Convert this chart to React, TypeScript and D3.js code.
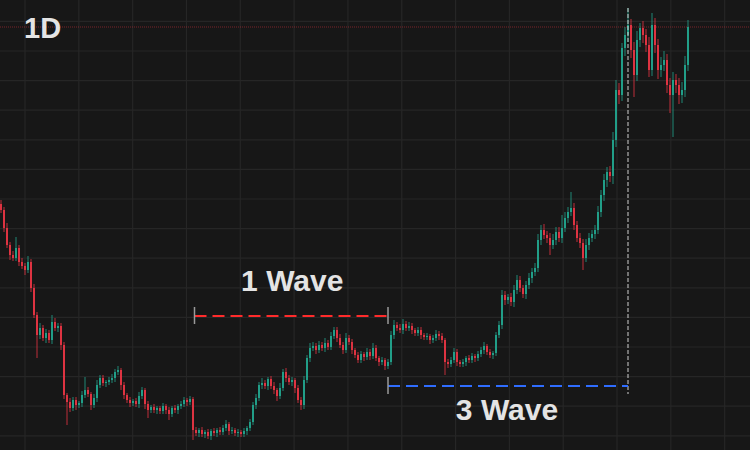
import React from "react";
import * as d3 from "d3";

// ---- data (price units) ----
const timeframeLabel = "1D";
const firstOpen = 246;
const closes = [
  // segment A
  240, 222, 205, 195, 192, 202, 188, 184, 180, 188, 162, 135, 115, 122, 112, 117, 110, 128, 122, 124, 105,
  // segment B
  55, 48, 42, 50, 45, 47, 55, 60, 56, 45, 52, 65, 72, 67, 68, 70, 72, 78, 80, 65,
  55, 50, 47, 49, 46, 54, 60, 46, 40, 43, 40, 42, 39, 44, 40, 36, 42, 40, 44, 46, 50, 48, 51,
  // segment C
  20, 17, 20, 16, 18, 14, 19, 17, 20, 18, 22, 26, 19, 20, 17, 18, 16, 19, 22, 28,
  45, 52, 65, 67, 64, 71, 64, 60, 54, 62, 78, 72, 68, 70, 62, 50,
  // segment D
  45, 70, 92, 102, 104, 100, 105, 102, 107, 103, 114, 120, 112, 105, 100, 112, 108, 100, 95, 90,
  96, 93, 98, 94, 102, 92, 88, 90, 84, 88,
  // segment E
  115, 125, 122, 120, 126, 122, 124, 120, 117, 120, 115, 113, 114, 110, 112, 116, 114, 110, 88, 86,
  90, 98, 88, 86, 88, 92, 90, 94, 92, 96, 100, 104, 98, 95, 97, 115, 125,
  // segment F
  155, 150, 153, 148, 160, 170, 162, 156, 165, 172, 178, 182, 210, 220, 215, 212, 205, 210, 218, 212,
  222, 232, 238, 242, 225, 212, 207, 192, 205, 212, 216, 220, 238, 255, 270, 278, 274,
  // segment G
  310, 360, 355, 402, 415, 425, 400, 375, 410, 422, 415, 405, 380, 425, 405, 380, 385, 390, 365, 355,
  370, 365, 355, 360, 385, 423,
];
const upperWick = [
  4, 3, 5, 3, 4, 11, 3, 4, 3, 6, 3, 4, 3, 5, 3, 4, 3, 7, 4, 3, 3,
  3, 2, 4, 3, 3, 2, 4, 13, 3, 2, 4, 5, 3, 3, 2, 3, 4, 3, 4, 2,
  3, 2, 3, 2, 3, 4, 3, 2, 3, 2, 3, 2, 2, 3, 2, 3, 2, 3, 2, 3, 3, 2, 3,
  2, 3, 2, 3, 2, 3, 2, 3, 2, 3, 3, 4, 2, 3, 2, 3, 2, 3, 2, 3,
  3, 4, 3, 5, 3, 2, 3, 4, 2, 5, 3, 4, 3, 3, 2, 3,
  3, 4, 3, 5, 4, 3, 4, 3, 5, 3, 4, 3, 3, 4, 3, 5, 3, 3, 2, 3,
  3, 2, 4, 3, 5, 3, 2, 3, 2, 3,
  4, 5, 3, 4, 5, 3, 4, 3, 2, 3, 3, 2, 3, 2, 3, 4, 3, 3, 2, 3,
  3, 4, 3, 2, 3, 2, 3, 3, 2, 3, 3, 4, 2, 3, 2, 3, 4,
  5, 4, 3, 4, 5, 5, 4, 3, 4, 5, 4, 5, 6, 5, 6, 4, 5, 6, 5, 5,
  13, 6, 5, 16, 5, 4, 5, 4, 6, 5, 4, 5, 6, 5, 6, 5, 6,
  8, 10, 7, 5, 8, 17, 6, 8, 9, 5, 7, 6, 8, 12, 7, 6, 8, 9, 6, 7,
  8, 6, 7, 8, 9, 7,
];
const lowerWick = [
  3, 4, 3, 5, 3, 3, 4, 3, 5, 3, 4, 3, 23, 4, 3, 5, 3, 4, 3, 4, 5,
  4, 23, 4, 3, 5, 3, 4, 3, 3, 5, 3, 4, 3, 3, 4, 3, 3, 4, 3, 5,
  4, 3, 4, 3, 3, 4, 3, 5, 8, 3, 3, 4, 3, 3, 4, 6, 3, 3, 4, 3, 3, 4, 3,
  10, 3, 4, 3, 4, 3, 4, 3, 4, 3, 3, 3, 4, 3, 3, 4, 3, 3, 4, 3,
  3, 4, 3, 4, 3, 4, 3, 4, 5, 3, 3, 4, 3, 4, 5, 3,
  5, 4, 3, 4, 3, 4, 3, 3, 4, 3, 3, 3, 4, 3, 4, 3, 3, 4, 3, 3,
  3, 4, 3, 4, 3, 3, 4, 3, 4, 3,
  3, 4, 3, 3, 4, 3, 3, 4, 3, 3, 4, 3, 3, 4, 3, 3, 4, 3, 13, 4,
  3, 3, 4, 3, 3, 4, 3, 3, 4, 3, 3, 4, 3, 3, 4, 3, 3,
  4, 5, 4, 4, 5, 4, 4, 4, 5, 4, 5, 4, 4, 5, 4, 5, 10, 4, 5, 4,
  5, 4, 5, 4, 5, 4, 5, 12, 4, 5, 4, 5, 4, 5, 6, 7, 6,
  8, 7, 9, 6, 8, 7, 8, 22, 6, 7, 8, 7, 7, 6, 8, 9, 7, 6, 8, 18,
  42, 8, 9, 8, 7, 6,
];
const peakIndex = 209;
const waveLabels = ["1 Wave", "3 Wave"];
const waveFrom = [64.5, 129];
const waveTo = [129, 209];
const waveLinePrice = [134, 64];
const waveTextPrice = [159, 30];
const waveColors = ["#ff2b2b", "#2f6dff"];

const W = 750;
const H = 450;
const UP = "#22ab94";
const DOWN = "#f23645";
const FONT = "'Liberation Sans', Arial, Helvetica, sans-serif";

export default function App() {
  const n = closes.length;
  const x = d3.scaleLinear().domain([0, n - 1]).range([1, 688]);
  const y = d3.scaleLinear().domain([0, 450]).range([450, 0]);

  const candles = closes.map((c, i) => {
    const o = i === 0 ? firstOpen : closes[i - 1];
    const hi = Math.max(o, c) + upperWick[i];
    const lo = Math.min(o, c) - lowerWick[i];
    return { i, o, c, hi, lo };
  });

  const timeGrid = d3.range(8, 250, 17.94);
  const priceGrid = d3.range(14.2, 440, 29.6);
  const last = closes[n - 1];
  const bw = 2;

  return (
    <svg
      width={W}
      height={H}
      style={{ position: "absolute", left: 0, top: 0, display: "block" }}
    >
      <rect x={0} y={0} width={W} height={H} fill="#171717" />
      <g stroke="#262626" strokeWidth={1.2}>
        {timeGrid.map((t, k) => (
          <line key={"v" + k} x1={x(t)} x2={x(t)} y1={0} y2={H} />
        ))}
        {priceGrid.map((p, k) => (
          <line key={"h" + k} x1={0} x2={W} y1={y(p)} y2={y(p)} />
        ))}
      </g>

      {/* last price line */}
      <line
        x1={0}
        x2={W}
        y1={y(last)}
        y2={y(last)}
        stroke={DOWN}
        strokeOpacity={0.45}
        strokeWidth={1}
        strokeDasharray="1,1"
      />

      <g>
        {candles.map((d) => {
          const col = d.c >= d.o ? UP : DOWN;
          const cx = x(d.i);
          const top = y(Math.max(d.o, d.c));
          const bot = y(Math.min(d.o, d.c));
          return (
            <g key={d.i}>
              <line
                x1={cx}
                x2={cx}
                y1={y(d.hi)}
                y2={y(d.lo)}
                stroke={col}
                strokeWidth={0.9}
                strokeOpacity={0.85}
              />
              <rect
                x={cx - bw / 2}
                y={top}
                width={bw}
                height={Math.max(1, bot - top)}
                fill={col}
                fillOpacity={0.85}
              />
            </g>
          );
        })}
      </g>

      {/* vertical dashed line at peak */}
      <line
        x1={x(peakIndex)}
        x2={x(peakIndex)}
        y1={y(candles[peakIndex].hi)}
        y2={y(waveLinePrice[1]) + 8}
        stroke="#d0d0d0"
        strokeWidth={1}
        strokeDasharray="4,2"
      />

      {waveLabels.map((lab, k) => {
        const x1 = x(waveFrom[k]);
        const x2 = x(waveTo[k]);
        const ly = y(waveLinePrice[k]);
        const cxm = (x1 + x2) / 2;
        return (
          <g key={lab}>
            <line
              x1={x1}
              x2={x2}
              y1={ly}
              y2={ly}
              stroke={waveColors[k]}
              strokeWidth={2}
              strokeDasharray="12,6"
            />
            <line x1={x1} x2={x1} y1={ly - 9} y2={ly + 8} stroke="#9a9a9a" strokeWidth={1.5} />
            {k === 0 && (
              <line x1={x2} x2={x2} y1={ly - 9} y2={ly + 8} stroke="#9a9a9a" strokeWidth={1.5} />
            )}
            <text
              x={k === 0 ? cxm + 1 : cxm - 1}
              y={y(waveTextPrice[k])}
              textAnchor="middle"
              fill="#e4e4e4"
              fontFamily={FONT}
              fontWeight={700}
              fontSize={30}
            >
              {lab}
            </text>
          </g>
        );
      })}

      <text
        x={24}
        y={38}
        fill="#e4e4e4"
        fontFamily={FONT}
        fontWeight={700}
        fontSize={29}
      >
        {timeframeLabel}
      </text>
    </svg>
  );
}
